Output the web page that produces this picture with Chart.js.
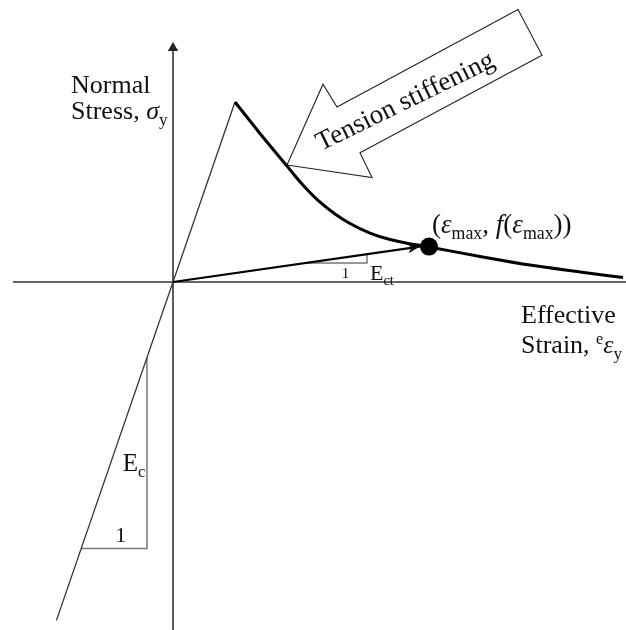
<!DOCTYPE html>
<html>
<head>
<meta charset="utf-8">
<script src="https://cdn.jsdelivr.net/npm/chart.js@4.4.1/dist/chart.umd.min.js"></script>
<style>
  html, body { margin: 0; padding: 0; background: #fff; }
  canvas { display: block; }
</style>
</head>
<body>
<canvas id="stressStrain" width="626" height="630"></canvas>
<script>
// axes extents (strain normalised to cracking strain, stress to tensile strength)
const xAxisLine = [[-2.58, 0], [7.31, 0]];
const yAxisLine = [[0, -1.94], [0, 1.317]];
const yAxisTip = [[0, 1.30]];

// linear elastic branch, slope Ec
const elasticBranch = [[-1.88, -1.88], [1, 1]];

// tension stiffening softening branch
const softeningStrain = [1.0, 1.403, 1.839, 2.081, 2.339, 2.613, 2.855, 3.177, 3.5, 3.823, 4.129, 4.952, 5.758, 6.565, 7.258];
const softeningStress = [1.0, 0.825, 0.644, 0.544, 0.453, 0.378, 0.325, 0.272, 0.236, 0.212, 0.194, 0.142, 0.094, 0.056, 0.025];

// unloading secant to (eps_max, f(eps_max)), slope Ect
const maxPoint = [[4.129, 0.197]];
const secantLine = [[0, 0], [3.98, 0.197]];

// slope triangles
const ectTriangle = [[2.133, 0.1056], [3.129, 0.1056], [3.129, 0.155]];
const ecTriangle = [[-0.42, -0.42], [-0.42, -1.48], [-1.48, -1.48]];

// outline of the "Tension stiffening" block arrow
const blockArrow = [[1.839, 0.65], [2.419, 1.099], [2.645, 0.972], [5.565, 1.514],
                    [5.952, 1.26], [3.016, 0.718], [3.21, 0.58], [1.839, 0.65]];

const toPts = arr => arr.map(([x, y]) => ({ x, y }));
const softening = softeningStrain.map((x, i) => ({ x, y: softeningStress[i] }));

const SERIF = '"Liberation Serif", "Times New Roman", serif';
const INK = '#111';

// text runs: n = normal, i = italic, sub / sup = small shifted
function drawRuns(ctx, x, y, runs, size) {
    let cx = x;
    runs.forEach(([t, kind]) => {
        let fs = size, dy = 0, style = '';
        if (kind === 'i') style = 'italic ';
        if (kind === 'sub') { fs = size * 0.66; dy = size * 0.22; }
        if (kind === 'sup') { fs = size * 0.62; dy = -size * 0.36; }
        ctx.font = style + fs + 'px ' + SERIF;
        ctx.fillText(t, cx, y + dy);
        cx += ctx.measureText(t).width;
    });
}

// labels anchored in data units
const labels = [
    { at: [-1.645, 1.05], size: 26, runs: [['Normal', 'n']] },
    { at: [-1.645, 0.906], size: 26, runs: [['Stress, ', 'n'], ['\u03c3', 'i'], ['y', 'sub']] },
    { at: [5.613, -0.228], size: 26, runs: [['Effective', 'n']] },
    { at: [5.613, -0.394], size: 26, runs: [['Strain, ', 'n'], ['e', 'sup'], ['\u03b5', 'i'], ['y', 'sub']] },
    { at: [4.177, 0.272], size: 27, runs: [['(', 'n'], ['\u03b5', 'i'], ['max', 'sub'], [', ', 'n'], ['f', 'i'], ['(', 'n'], ['\u03b5', 'i'], ['max', 'sub'], ['))', 'n']] },
    { at: [3.177, 0.013], size: 22, runs: [['E', 'n'], ['ct', 'sub']] },
    { at: [2.72, 0.022], size: 15, runs: [['1', 'n']] },
    { at: [-0.81, -1.05], size: 25, runs: [['E', 'n'], ['c', 'sub']] },
    { at: [-0.93, -1.444], size: 22, runs: [['1', 'n']] }
];

const annotate = {
    id: 'annotate',
    afterDatasetsDraw(chart) {
        const { ctx, scales: { x, y } } = chart;
        ctx.save();
        ctx.fillStyle = INK;
        ctx.textBaseline = 'alphabetic';
        labels.forEach(l => {
            drawRuns(ctx, x.getPixelForValue(l.at[0]), y.getPixelForValue(l.at[1]), l.runs, l.size);
        });

        // rotated caption inside the block arrow
        ctx.save();
        ctx.translate(x.getPixelForValue(3.75), y.getPixelForValue(1.0));
        ctx.rotate(-26 * Math.PI / 180);
        ctx.font = '27px ' + SERIF;
        ctx.textAlign = 'center';
        ctx.textBaseline = 'middle';
        ctx.fillText('Tension stiffening', 0, 0);
        ctx.restore();

        // arrowhead at the end of the secant
        const [s0, s1] = secantLine;
        const x0 = x.getPixelForValue(s0[0]), y0 = y.getPixelForValue(s0[1]);
        const x1 = x.getPixelForValue(s1[0]), y1 = y.getPixelForValue(s1[1]);
        const a = Math.atan2(y1 - y0, x1 - x0);
        const len = 12, half = 5;
        ctx.translate(x1, y1);
        ctx.rotate(a);
        ctx.beginPath();
        ctx.moveTo(0, 0);
        ctx.lineTo(-len, -half);
        ctx.lineTo(-len * 0.7, 0);
        ctx.lineTo(-len, half);
        ctx.closePath();
        ctx.fillStyle = '#000';
        ctx.fill();
        ctx.restore();
    }
};

const line = (data, color, width, extra) => Object.assign({
    data: toPts(data),
    showLine: true,
    borderColor: color,
    borderWidth: width,
    pointRadius: 0,
    fill: false
}, extra || {});

new Chart(document.getElementById('stressStrain'), {
    type: 'scatter',
    data: {
        datasets: [
            { data: toPts(maxPoint), pointRadius: 9, pointBackgroundColor: '#000', pointBorderWidth: 0 },
            { data: toPts(yAxisTip), pointStyle: 'triangle', pointRadius: 6, pointBackgroundColor: '#222', pointBorderWidth: 0 },
            { data: softening, showLine: true, borderColor: '#000', borderWidth: 3, pointRadius: 0, cubicInterpolationMode: 'monotone' },
            line(secantLine, '#000', 2.2),
            line(elasticBranch, '#333', 1.3),
            line(blockArrow, '#222', 1.1),
            line(ectTriangle, '#777', 1.5),
            line(ecTriangle, '#777', 1.5),
            line(yAxisLine, '#333', 1.6),
            line(xAxisLine, '#666', 2.2)
        ]
    },
    options: {
        responsive: false,
        animation: false,
        events: [],
        layout: { padding: 0, autoPadding: false },
        plugins: { legend: { display: false }, tooltip: { enabled: false } },
        scales: {
            x: { type: 'linear', display: false, min: -173 / 62, max: (626 - 173) / 62 },
            y: { type: 'linear', display: false, min: -348 / 180, max: 282 / 180 }
        }
    },
    plugins: [annotate]
});
</script>
</body>
</html>
